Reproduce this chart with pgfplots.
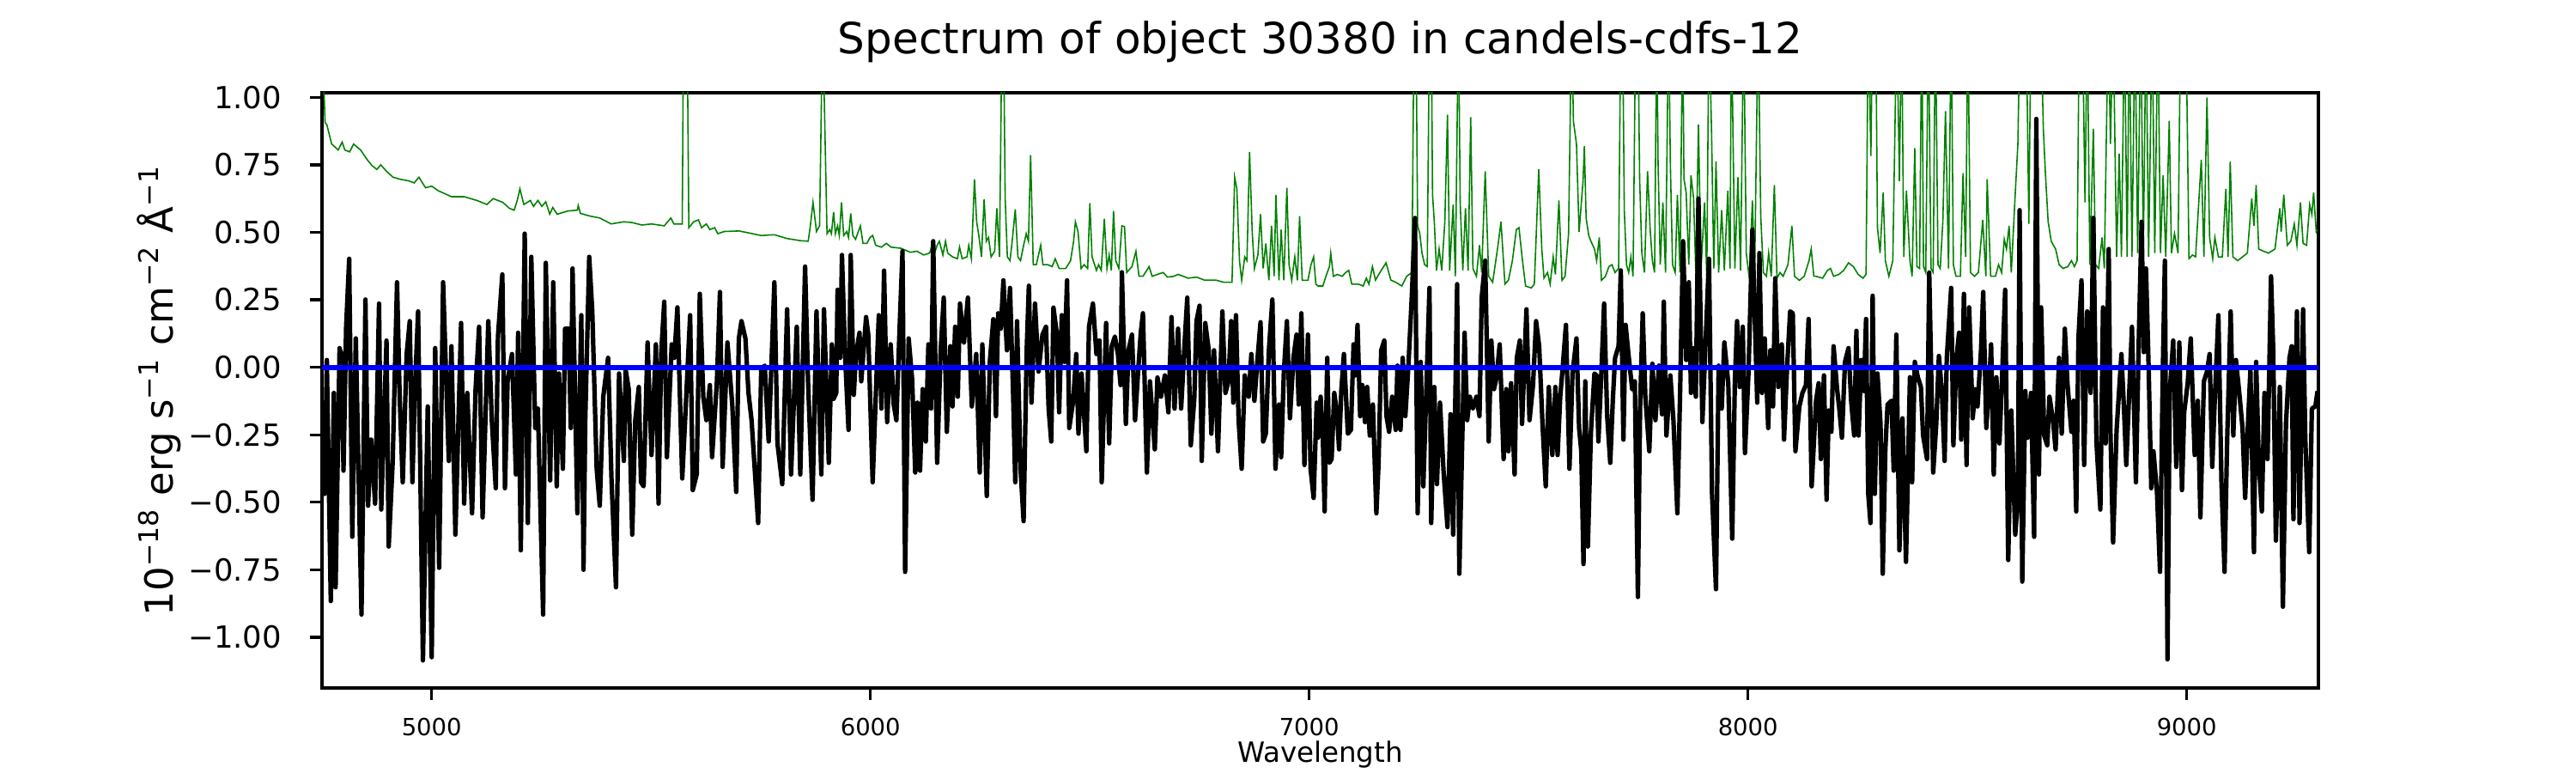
\documentclass[border=0pt]{standalone}
\usepackage{fontspec}
\setmainfont{DejaVu Sans}
\usepackage{pgfplots}
\pgfplotsset{compat=1.18}
\definecolor{mplgreen}{rgb}{0,0.5,0}
\begin{document}
\begin{tikzpicture}
\path[use as bounding box] (0,0) rectangle (720pt,216pt);
\begin{axis}[
  at={(90pt,23.76pt)}, anchor=south west,
  scale only axis, width=558pt, height=166.32pt,
  xmin=4750, xmax=9300, ymin=-1.188, ymax=1.017,
  axis line style={line width=0.8pt},
  tick align=outside, xtick pos=bottom, ytick pos=left,
  major tick length=3.4pt,
  tick style={line width=0.8pt, black},
  xtick={5000,6000,7000,8000,9000},
  xticklabels={5000,6000,7000,8000,9000},
  ytick={-1,-0.75,-0.5,-0.25,0,0.25,0.5,0.75,1},
  yticklabels={−1.00,−0.75,−0.50,−0.25,0.00,0.25,0.50,0.75,1.00},
  xticklabel style={font=\fontsize{6.6}{7}\selectfont, anchor=base, inner sep=0pt, yshift=-10pt},
  yticklabel style={font=\fontsize{8.5}{10}\selectfont, anchor=east, inner sep=0pt, xshift=-7.7pt},
  title={Spectrum of object 30380 in candels-cdfs-12},
  title style={at={(0.5,1)}, anchor=base, yshift=5pt, inner sep=0pt, font=\fontsize{12}{14}\selectfont},
  xlabel={Wavelength},
  xlabel style={at={(0.5,0)}, anchor=base, yshift=-20.8pt, inner sep=0pt, font=\fontsize{7.8}{9}\selectfont},
  ylabel={10\textsuperscript{−18} erg s\textsuperscript{−1} cm\textsuperscript{−2} Å\textsuperscript{−1}},
  ylabel style={at={(-0.0817,0.5)}, anchor=center, inner sep=0pt, font=\fontsize{10.8}{12}\selectfont},
]
% sky / error spectrum (green)
\addplot[mplgreen, line width=0.38pt] coordinates {
(4750,1.3)(4753,1.1)(4757,0.906)(4761,0.899)(4772,0.827)(4787,0.805)(4796,0.834)(4802,0.805)(4813,0.798)(4822,0.827)(4838,0.805)(4853,0.769)(4864,0.747)(4875,0.733)(4884,0.750)(4897,0.726)(4912,0.704)(4927,0.697)(4949,0.690)(4960,0.683)(4971,0.704)(4986,0.665)(5000,0.671)(5015,0.654)(5045,0.632)(5074,0.632)(5103,0.618)(5126,0.603)(5140,0.625)(5162,0.611)(5177,0.589)(5188,0.582)(5195,0.618)(5201,0.661)(5210,0.603)(5225,0.618)(5232,0.596)(5242,0.618)(5251,0.596)(5260,0.613)(5269,0.567)(5276,0.592)(5286,0.567)(5310,0.579)(5332,0.582)(5334,0.599)(5339,0.570)(5361,0.560)(5383,0.553)(5409,0.531)(5438,0.539)(5457,0.536)(5479,0.527)(5501,0.531)(5530,0.524)(5545,0.553)(5552,0.531)(5571,0.531)(5574,1.3)(5582,1.3)(5586,0.517)(5597,0.539)(5608,0.546)(5615,0.517)(5626,0.531)(5634,0.510)(5645,0.517)(5652,0.495)(5667,0.503)(5700,0.505)(5722,0.498)(5751,0.488)(5781,0.491)(5810,0.477)(5840,0.469)(5858,0.467)(5863,0.524)(5869,0.611)(5877,0.503)(5884,0.524)(5891,1.3)(5897,0.812)(5901,0.495)
(5907,0.510)(5911,0.495)(5916,0.575)(5920,0.495)(5925,0.524)(5929,0.488)(5934,0.611)(5939,0.488)(5946,0.503)(5950,0.481)(5955,0.570)(5960,0.488)(5966,0.474)(5977,0.524)(5983,0.459)(5992,0.459)(5999,0.481)(6005,0.488)(6012,0.452)(6025,0.445)(6036,0.459)(6047,0.445)(6069,0.441)(6091,0.426)(6106,0.430)(6121,0.416)(6135,0.423)(6141,0.459)(6146,0.423)(6152,0.452)(6157,0.467)(6165,0.416)(6171,0.467)(6176,0.423)(6187,0.409)(6198,0.402)(6203,0.445)(6209,0.402)(6220,0.409)(6224,0.452)(6230,0.402)(6237,0.697)(6242,0.539)(6247,0.488)(6253,0.409)(6259,0.622)(6264,0.467)(6269,0.481)(6275,0.409)(6283,0.430)(6288,0.589)(6294,0.409)(6300,1.3)(6303,1.3)(6307,0.625)(6312,0.409)(6318,0.395)(6323,0.467)(6330,0.585)(6336,0.409)(6342,0.395)(6349,0.452)(6355,0.495)(6360,0.467)(6365,0.786)(6371,0.380)(6378,0.380)(6388,0.452)(6393,0.380)(6404,0.380)(6414,0.373)(6421,0.402)(6430,0.366)(6445,0.366)(6456,0.395)(6463,0.467)(6467,0.539)(6473,0.503)(6480,0.366)(6487,0.380)(6495,0.366)(6500,0.608)(6505,0.409)(6515,0.359)(6520,0.380)(6526,0.359)(6533,0.550)(6539,0.366)(6544,0.416)(6549,0.359)(6554,0.579)(6559,0.395)(6566,0.366)(6573,0.524)(6579,0.521)(6584,0.351)(6596,0.373)(6605,0.430)(6612,0.337)(6621,0.337)(6635,0.373)(6642,0.337)(6654,0.344)(6667,0.351)(6677,0.334)(6691,0.337)(6701,0.344)(6713,0.337)(6724,0.330)(6743,0.334)(6761,0.323)(6787,0.323)(6805,0.315)(6824,0.315)(6830,0.704)(6835,0.661)(6841,0.395)(6846,0.322)(6853,0.409)(6858,0.395)(6864,0.798)(6870,0.502)(6875,0.366)(6883,0.416)(6889,0.567)(6895,0.366)(6901,0.459)(6908,0.322)(6914,0.524)(6920,0.337)(6924,0.639)(6931,0.322)(6936,0.510)(6942,0.322)(6949,0.665)(6954,0.380)(6960,0.322)(6967,0.409)(6973,0.322)(6978,0.560)(6984,0.322)(6997,0.322)(7004,0.380)(7010,0.409)(7015,0.308)
(7020,0.301)(7031,0.301)(7038,0.337)(7046,0.373)(7049,0.423)(7055,0.337)(7064,0.344)(7075,0.337)(7083,0.351)(7090,0.359)(7097,0.308)(7112,0.308)(7123,0.301)(7130,0.330)(7136,0.308)(7144,0.373)(7151,0.323)(7161,0.351)(7175,0.387)(7186,0.323)(7197,0.315)(7211,0.301)(7222,0.337)(7234,0.351)(7239,1.3)(7243,1.3)(7247,0.524)(7252,0.495)(7257,0.423)(7263,0.380)(7269,0.373)(7274,1.3)(7278,1.3)(7281,0.639)(7285,0.539)(7290,0.359)(7296,0.438)(7302,0.359)(7309,0.539)(7315,0.935)(7320,0.359)(7328,0.603)(7333,0.337)(7340,1.3)(7344,0.610)(7350,0.359)(7356,0.589)(7362,0.359)(7368,0.927)(7373,0.366)(7381,0.337)(7388,0.452)(7393,0.351)(7401,0.726)(7409,0.337)(7418,0.315)(7429,0.438)(7437,0.539)(7446,0.308)(7454,0.323)(7463,0.395)(7472,0.510)(7478,0.517)(7485,0.409)(7493,0.301)(7506,0.294)(7513,0.308)(7523,0.733)(7530,0.438)(7535,0.330)(7543,0.351)(7549,0.308)(7556,0.409)(7561,0.344)(7569,0.618)(7576,0.322)(7583,0.337)(7591,0.495)(7598,1.3)(7602,0.913)(7609,0.827)(7615,0.502)(7624,0.690)(7627,0.819)(7631,0.553)(7637,0.488)(7642,0.467)(7650,0.438)(7655,0.395)(7661,0.481)(7666,0.322)(7675,0.337)(7683,0.373)(7690,0.380)(7697,0.351)(7705,0.366)(7710,1.3)(7714,1.3)(7718,0.582)(7723,0.380)(7728,0.351)(7733,0.409)(7738,0.337)(7744,1.3)(7749,1.3)(7753,0.697)(7758,0.423)(7764,0.351)(7771,0.726)(7777,0.510)(7782,0.395)(7787,0.351)(7792,1.3)(7795,0.755)(7800,0.380)(7806,0.611)(7812,0.351)(7819,1.3)(7823,0.755)(7828,0.380)(7834,0.351)(7839,0.639)(7845,0.351)(7851,1.3)(7854,0.697)(7859,0.647)(7865,0.380)(7870,0.711)(7876,0.625)(7881,0.351)(7887,0.899)(7893,0.366)(7901,0.611)(7906,0.337)(7911,1.3)(7917,0.863)(7922,0.366)(7927,0.762)(7933,0.351)(7940,0.582)(7946,0.359)(7954,0.654)(7959,0.366)(7962,1.3)(7970,0.366)(7977,0.704)(7983,0.359)(7990,1.3)(7996,0.423)(8003,0.330)(8010,0.618)(8015,0.337)(8023,1.3)(8029,0.560)(8035,0.351)(8042,0.337)(8047,0.423)(8053,0.337)(8060,0.675)(8066,0.330)(8073,0.351)(8080,0.337)(8091,0.380)(8100,0.524)(8106,0.337)(8117,0.322)(8128,0.337)(8139,0.395)(8144,0.438)(8150,0.337)
(8155,0.337)(8170,0.330)(8181,0.359)(8188,0.366)(8195,0.337)(8207,0.344)(8218,0.359)(8229,0.387)(8240,0.373)(8251,0.344)(8262,0.330)(8269,0.344)(8274,1.3)(8280,0.783)(8284,1.3)(8291,1.3)(8295,0.517)(8301,0.423)(8308,0.647)(8313,0.395)(8321,0.337)(8330,0.395)(8339,1.3)(8345,0.690)(8350,1.3)(8355,0.409)(8361,0.654)(8369,0.395)(8374,0.337)(8380,0.812)(8385,0.373)(8391,0.366)(8396,1.3)(8400,0.373)(8405,0.351)(8411,1.3)(8417,0.366)(8422,0.351)(8427,1.3)(8433,0.380)(8438,0.366)(8444,0.539)(8450,0.949)(8457,0.366)(8463,1.3)(8468,0.380)(8474,0.337)(8484,0.337)(8490,0.719)(8496,0.409)(8501,1.3)(8507,0.351)(8516,0.337)(8525,0.351)(8535,0.546)(8542,0.337)(8545,0.697)(8553,0.337)(8564,0.337)(8571,0.380)(8578,0.351)(8584,0.474)(8589,0.438)(8595,0.524)(8600,0.351)(8608,0.611)(8615,0.827)(8620,1.3)(8634,1.3)(8640,0.531)(8645,1.3)(8656,1.3)(8667,1.3)(8673,0.884)(8678,0.711)(8684,0.539)(8691,0.467)(8696,0.452)(8701,0.438)(8709,0.380)(8718,0.366)(8729,0.373)(8737,0.395)(8744,0.373)(8750,0.395)(8755,1.3)(8762,1.3)(8768,0.611)(8773,1.3)(8779,0.380)(8787,0.884)(8792,0.380)(8799,0.366)(8807,0.481)(8812,0.366)(8821,1.3)(8826,0.827)(8832,1.3)(8840,0.409)(8846,0.791)(8851,0.409)(8858,1.3)(8864,0.409)(8869,1.3)(8875,0.409)(8882,1.3)(8888,0.423)(8895,1.3)(8901,0.423)(8907,1.3)(8913,0.409)(8921,1.3)(8927,0.423)(8934,1.3)(8940,0.423)(8946,0.711)(8952,0.409)(8960,0.913)(8965,0.423)(8972,0.495)(8980,0.423)(8986,1.3)(8991,1.3)(8998,1.3)(9005,0.402)(9013,0.416)(9020,0.409)(9033,0.769)(9039,0.409)(9046,0.999)(9052,0.481)(9059,0.402)(9064,0.481)(9072,0.409)(9081,0.409)(9089,0.661)(9094,0.409)(9099,0.762)(9105,0.409)(9116,0.395)(9127,0.409)(9138,0.423)(9148,0.625)(9153,0.524)(9158,0.675)(9164,0.438)(9175,0.430)(9186,0.423)(9201,0.438)(9212,0.589)(9215,0.502)(9221,0.639)(9229,0.452)(9237,0.467)(9245,0.531)(9251,0.452)(9259,0.611)(9265,0.459)(9273,0.452)(9280,0.603)(9285,0.567)(9289,0.647)(9295,0.502)(9298,0.510)
};
% object spectrum (black)
\addplot[black, line width=1.25pt, line join=round] coordinates {
(4750,-0.397)(4756,-0.469)(4761,0.027)(4770,-0.866)(4777,-0.095)(4781,-0.815)(4790,0.071)(4794,0.049)(4799,-0.383)(4805,0.150)(4812,0.402)(4819,-0.628)(4827,0.107)(4840,-0.916)(4849,0.251)(4855,-0.513)(4862,-0.268)(4871,-0.505)(4880,0.236)(4885,-0.527)(4897,0.099)(4902,-0.664)(4911,-0.354)(4921,0.315)(4927,-0.109)(4934,-0.426)(4943,0.049)(4950,0.171)(4956,-0.426)(4962,-0.073)(4969,0.207)(4980,-1.086)(4991,-0.145)(5000,-1.074)(5008,0.071)(5017,-0.743)(5026,0.315)(5039,-0.347)(5045,0.078)(5054,-0.620)(5067,0.164)(5074,-0.505)(5081,-0.095)(5092,-0.541)(5100,-0.081)(5108,0.150)(5116,-0.556)(5129,0.171)(5137,-0.196)(5146,-0.448)(5151,0.114)(5161,0.344)(5167,-0.448)(5173,-0.052)(5183,0.049)(5192,-0.397)(5197,0.128)(5203,-0.678)(5212,0.495)(5219,-0.577)(5227,0.409)(5236,-0.225)(5242,-0.153)(5254,-0.916)(5260,0.387)(5270,-0.419)(5277,0.315)(5285,-0.441)(5290,-0.023)(5299,-0.376)(5304,0.143)(5312,0.143)(5317,-0.225)(5321,0.366)(5332,-0.541)(5341,0.193)(5346,-0.750)(5350,-0.196)(5359,0.409)(5366,0.207)(5376,-0.376)(5383,-0.513)(5391,-0.109)(5402,0.035)(5410,-0.426)(5420,-0.815)(5427,-0.023)(5438,-0.347)(5442,-0.009)(5449,-0.081)(5457,-0.620)(5464,-0.196)(5472,-0.073)(5477,-0.426)(5483,-0.441)(5492,0.092)(5501,-0.325)(5511,0.085)(5517,-0.505)(5523,0.049)(5530,0.243)(5536,-0.333)(5547,0.085)(5553,0.035)(5560,0.222)(5571,-0.412)(5578,-0.181)(5589,0.193)(5595,-0.455)(5604,-0.397)(5611,0.272)(5619,-0.109)(5626,-0.196)(5634,-0.066)(5639,-0.333)(5650,-0.052)(5657,0.279)(5663,-0.369)(5674,0.092)(5685,-0.138)(5694,-0.462)(5700,0.107)(5706,0.171)(5715,0.107)(5722,-0.095)(5729,-0.196)(5737,-0.397)(5744,-0.577)(5751,-0.009)(5759,0.006)(5768,-0.275)(5781,0.315)(5788,-0.282)(5799,-0.433)(5810,0.215)(5819,-0.397)(5832,0.150)(5840,-0.397)(5851,0.373)(5858,-0.066)(5868,-0.491)(5877,0.207)(5888,-0.397)
(5894,0.215)(5905,-0.354)(5912,0.085)(5916,-0.117)(5922,-0.095)(5925,0.287)(5931,0.035)(5935,0.416)(5942,0.049)(5950,-0.232)(5955,0.416)(5962,-0.102)(5967,0.049)(5975,0.128)(5979,-0.052)(5990,0.186)(5995,0.121)(6005,-0.426)(6012,-0.109)(6019,0.193)(6025,-0.153)(6031,0.358)(6038,-0.203)(6046,0.085)(6053,-0.138)(6059,-0.196)(6066,0.128)(6073,0.430)(6079,-0.758)(6087,0.107)(6095,-0.045)(6102,-0.390)(6107,-0.131)(6113,-0.383)(6119,-0.081)(6126,-0.275)(6132,0.085)(6138,-0.153)(6143,0.467)(6152,-0.354)(6160,0.063)(6167,0.258)(6174,-0.239)(6182,0.078)(6187,-0.145)(6193,0.150)(6199,-0.109)(6204,0.236)(6213,0.092)(6222,0.258)(6231,-0.145)(6241,0.049)(6249,-0.390)(6255,0.085)(6265,-0.477)(6272,0.020)(6280,0.178)(6286,-0.181)(6291,0.200)(6297,0.143)(6303,0.322)(6311,0.063)(6318,0.294)(6325,-0.095)(6330,-0.426)(6334,0.171)(6342,-0.376)(6349,-0.570)(6356,0.063)(6361,0.302)(6367,-0.131)(6375,0.236)(6383,-0.016)(6392,0.121)(6400,0.150)(6406,-0.153)(6412,-0.275)(6417,0.221)(6425,0.121)(6430,-0.167)(6436,0.193)(6442,0.020)(6448,0.322)(6453,-0.225)(6462,-0.124)(6469,0.049)(6474,-0.246)(6481,-0.023)(6492,-0.311)(6498,0.150)(6507,0.236)(6515,0.049)(6522,0.099)(6527,-0.426)(6537,0.164)(6544,-0.282)(6550,0.078)(6557,0.114)(6564,0.049)(6570,-0.066)(6573,0.352)(6582,-0.210)(6588,0.063)(6596,0.121)(6603,-0.196)(6610,-0.016)(6616,0.128)(6621,0.200)(6630,-0.390)(6637,-0.052)(6648,-0.304)(6654,-0.038)(6662,-0.109)(6671,-0.030)(6679,-0.167)(6686,0.186)(6693,-0.153)(6701,0.143)(6708,-0.153)(6716,0.092)(6722,0.258)(6730,-0.289)(6738,-0.117)(6743,0.171)(6750,0.228)(6755,-0.347)(6763,0.164)(6771,0.063)(6777,-0.246)(6783,0.063)(6792,-0.311)(6802,0.207)(6809,-0.095)(6816,-0.052)(6822,0.171)(6827,-0.131)(6833,0.193)(6839,-0.196)(6846,-0.376)(6853,-0.030)(6862,-0.109)(6868,0.049)(6875,-0.124)(6883,0.049)(6889,0.167)(6895,-0.275)(6901,-0.246)(6908,0.063)(6916,0.251)(6923,-0.376)(6931,-0.138)(6936,-0.333)(6942,-0.023)(6949,0.171)(6956,-0.189)(6964,0.035)(6971,0.121)(6976,-0.138)(6982,0.200)(6989,-0.362)(6997,0.121)(7003,-0.376)(7010,-0.484)(7017,-0.131)
(7020,-0.261)(7026,-0.109)(7031,-0.261)(7035,-0.534)(7041,0.035)(7046,-0.354)(7051,-0.340)(7057,-0.095)(7063,-0.167)(7068,-0.304)(7073,-0.088)(7079,0.049)(7088,-0.246)(7095,-0.232)(7101,0.085)(7105,-0.030)(7110,0.157)(7116,-0.181)(7121,-0.066)(7127,-0.203)(7132,-0.073)(7138,-0.253)(7145,-0.138)(7153,-0.541)(7158,-0.354)(7164,0.063)(7171,0.099)(7176,-0.181)(7182,-0.239)(7189,-0.109)(7197,-0.232)(7201,0.006)(7208,-0.232)(7213,0.035)(7219,-0.181)(7226,0.006)(7234,0.272)(7241,0.553)(7247,-0.541)(7254,0.020)(7260,-0.441)(7267,-0.073)(7274,0.294)(7278,-0.577)(7285,-0.073)(7291,-0.433)(7298,-0.131)(7306,-0.383)(7315,-0.592)(7322,-0.174)(7328,-0.620)(7337,0.308)(7342,-0.765)(7354,0.128)(7360,-0.196)(7366,-0.109)(7373,-0.153)(7381,-0.109)(7388,-0.181)(7393,0.258)(7401,0.395)(7409,-0.275)(7415,0.099)(7421,-0.081)(7427,-0.037)(7434,0.085)(7443,-0.340)(7449,-0.081)(7454,-0.311)(7460,-0.059)(7468,-0.397)(7473,0.035)(7480,0.099)(7485,-0.210)(7495,0.215)(7502,-0.196)(7510,-0.066)(7517,0.171)(7524,0.078)(7532,-0.225)(7539,-0.441)(7546,-0.073)(7554,-0.325)(7561,-0.073)(7566,-0.325)(7572,-0.109)(7578,0.006)(7585,0.157)(7593,-0.376)(7600,-0.023)(7609,0.107)(7615,-0.225)(7620,-0.311)(7625,-0.729)(7629,-0.052)(7635,-0.664)(7642,-0.239)(7650,-0.023)(7655,-0.030)(7659,-0.275)(7666,-0.009)(7672,0.236)(7679,-0.181)(7686,-0.354)(7692,-0.117)(7697,0.035)(7705,0.078)(7710,0.359)(7716,-0.268)(7721,0.157)(7727,0.056)(7736,-0.081)(7742,-0.052)(7749,-0.851)(7754,-0.153)(7760,0.200)(7766,-0.109)(7775,-0.311)(7782,0.013)(7789,-0.196)(7797,0.006)(7804,-0.174)(7808,0.243)(7814,-0.253)(7823,-0.030)(7830,-0.196)(7839,-0.541)(7845,-0.109)(7852,0.467)(7859,0.027)(7865,0.315)(7870,-0.095)(7876,0.071)(7881,-0.109)(7887,0.625)(7896,-0.203)(7904,0.121)(7911,0.402)(7918,-0.469)(7927,-0.822)(7933,0.006)(7940,-0.153)(7946,0.092)(7955,-0.059)(7964,-0.635)(7970,-0.052)(7975,0.171)(7981,-0.073)(7988,0.150)(7993,-0.318)(8001,-0.023)(8010,0.510)(8015,0.207)(8021,-0.131)(8026,0.423)(8032,-0.095)(8038,0.107)(8046,-0.225)(8051,0.063)(8057,-0.145)(8062,0.330)(8069,-0.073)(8077,0.085)(8082,-0.268)(8089,-0.001)(8096,0.207)(8102,0.200)(8108,-0.311)(8117,-0.145)(8124,-0.095)(8132,-0.066)(8138,0.179)(8145,-0.441)
(8155,-0.124)(8161,-0.059)(8166,-0.340)(8173,-0.030)(8179,-0.491)(8184,-0.160)(8190,-0.239)(8195,0.078)(8203,-0.081)(8208,-0.153)(8214,-0.261)(8221,0.020)(8229,0.071)(8235,-0.124)(8242,-0.253)(8247,0.135)(8252,-0.253)(8258,0.027)(8264,-0.088)(8269,0.179)(8274,-0.469)(8279,-0.577)(8284,0.265)(8289,-0.469)(8295,-0.023)(8302,-0.210)(8307,-0.765)(8313,-0.304)(8318,-0.138)(8327,-0.124)(8332,-0.383)(8338,0.121)(8345,-0.678)(8352,-0.189)(8360,-0.721)(8369,-0.037)(8374,-0.426)(8380,0.020)(8387,-0.037)(8394,-0.073)(8399,-0.253)(8408,-0.340)(8413,0.351)(8422,-0.390)(8429,-0.210)(8435,0.042)(8442,-0.095)(8448,-0.347)(8453,0.035)(8463,0.294)(8468,-0.289)(8475,0.035)(8481,0.128)(8486,-0.268)(8492,0.272)(8498,-0.362)(8504,0.222)(8512,-0.189)(8518,-0.081)(8523,-0.145)(8531,0.063)(8536,0.279)(8543,-0.225)(8549,-0.081)(8554,0.085)(8560,-0.397)(8566,-0.037)(8573,-0.282)(8578,-0.081)(8586,0.287)(8593,-0.714)(8600,-0.160)(8609,-0.620)(8615,-0.491)(8619,0.582)(8625,-0.794)(8632,-0.088)(8637,-0.261)(8645,-0.095)(8652,-0.628)(8657,0.920)(8663,-0.397)(8668,0.222)(8675,-0.253)(8682,-0.289)(8687,-0.109)(8695,-0.196)(8701,-0.304)(8709,0.035)(8715,-0.246)(8722,0.143)(8728,-0.059)(8737,-0.239)(8742,-0.124)(8748,-0.534)(8753,0.107)(8760,0.322)(8766,-0.362)(8773,0.207)(8781,-0.095)(8787,0.553)(8794,-0.275)(8803,-0.527)(8809,0.222)(8815,-0.282)(8822,0.438)(8826,-0.239)(8832,-0.649)(8840,-0.232)(8851,0.049)(8857,-0.160)(8862,-0.362)(8868,-0.124)(8875,0.150)(8884,-0.426)(8891,0.135)(8897,0.539)(8902,0.056)(8907,0.366)(8913,-0.001)(8919,-0.448)(8924,-0.311)(8932,-0.462)(8939,-0.758)(8945,-0.045)(8950,0.395)(8956,-1.082)(8961,-0.095)(8969,0.099)(8976,-0.369)(8983,0.092)(8989,-0.455)(8994,-0.167)(9002,-0.059)(9009,0.107)(9018,-0.325)(9025,-0.124)(9031,-0.556)(9039,-0.052)(9046,-0.016)(9052,0.049)(9058,-0.369)(9064,-0.109)(9072,0.193)(9079,-0.426)(9086,-0.758)(9092,-0.268)(9100,0.207)(9106,-0.253)(9112,0.027)(9120,-0.102)(9127,-0.225)(9133,-0.484)(9139,-0.225)(9145,-0.009)(9153,-0.685)(9158,0.020)(9164,-0.347)(9171,-0.534)(9177,-0.095)(9184,-0.340)(9192,0.337)(9197,0.063)(9203,-0.642)(9212,-0.073)(9219,-0.887)(9226,-0.210)(9234,0.035)(9239,0.078)(9243,-0.563)(9251,0.207)(9257,-0.577)(9265,0.215)(9270,-0.261)(9279,-0.685)(9285,-0.153)(9293,-0.145)(9298,-0.088)
};
% zero line (blue)
\addplot[blue, line width=1.4pt] coordinates {(4750,0) (9300,0)};
\end{axis}
\end{tikzpicture}
\end{document}
